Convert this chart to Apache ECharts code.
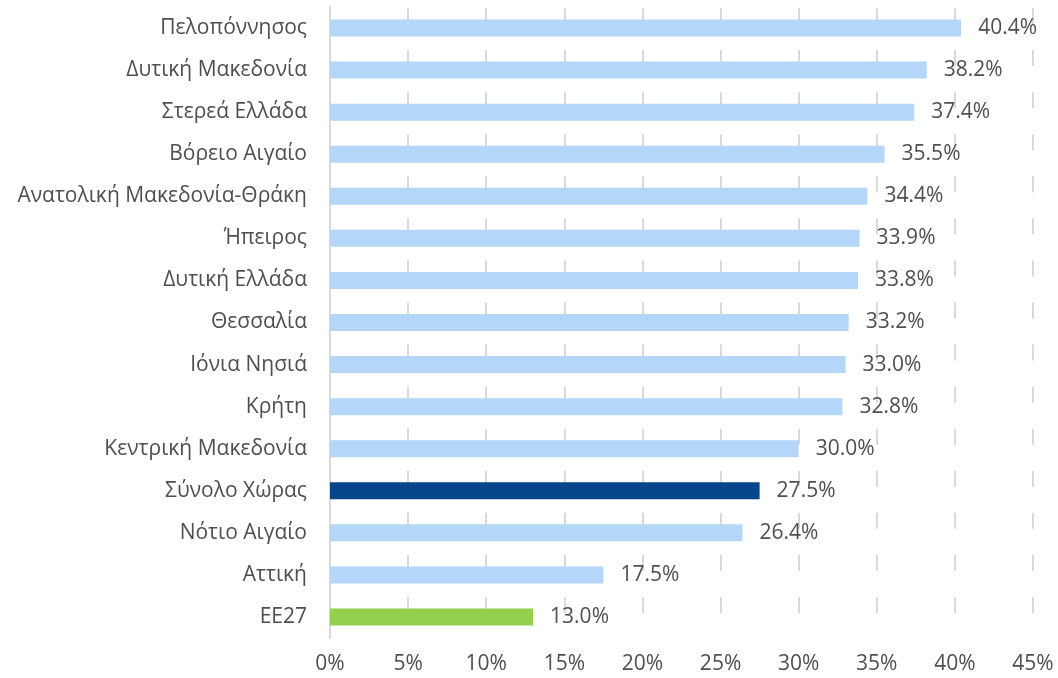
<!DOCTYPE html>
<html>
<head>
<meta charset="utf-8">
<script src="https://cdn.jsdelivr.net/npm/echarts@6/dist/echarts.min.js"></script>
<style>
  html, body { margin: 0; padding: 0; background: #fff; }
  #chart { width: 1058px; height: 678px; }
</style>
</head>
<body>
<div id="chart"></div>
<script>
// regions, top to bottom
var regions = ['Πελοπόννησος', 'Δυτική Μακεδονία', 'Στερεά Ελλάδα', 'Βόρειο Αιγαίο',
  'Ανατολική Μακεδονία-Θράκη', 'Ήπειρος', 'Δυτική Ελλάδα', 'Θεσσαλία', 'Ιόνια Νησιά',
  'Κρήτη', 'Κεντρική Μακεδονία', 'Σύνολο Χώρας', 'Νότιο Αιγαίο', 'Αττική', 'ΕΕ27'];
var values = [40.4, 38.2, 37.4, 35.5, 34.4, 33.9, 33.8, 33.2, 33.0, 32.8, 30.0, 27.5, 26.4, 17.5, 13.0];
var xTicks = [0, 5, 10, 15, 20, 25, 30, 35, 40, 45];

var colorDefault = '#b4d6f8';
var colorCountry = '#03468a';
var colorEU = '#92d050';
var textColor = '#4f4f4f';
var font = 'Open Sans';

var myChart = echarts.init(document.getElementById('chart'));

var option = {
  animation: false,
  grid: { left: 330, right: 25, top: 7, bottom: 40 },
  xAxis: {
    type: 'value',
    min: xTicks[0],
    max: xTicks[xTicks.length - 1],
    interval: 5,
    axisLine: { show: false },
    axisTick: { show: false },
    axisLabel: {
      formatter: '{value}%',
      color: textColor,
      fontSize: 21,
      fontFamily: font,
      margin: 16
    },
    splitLine: {
      lineStyle: { color: '#d9d9d9', width: 2, type: [16, 26.07], dashOffset: -1 }
    }
  },
  yAxis: {
    type: 'category',
    inverse: true,
    data: regions,
    axisLine: { lineStyle: { color: '#d9d9d9', width: 2 } },
    axisTick: { length: 8, lineStyle: { color: '#d9d9d9', width: 2 } },
    axisLabel: {
      color: textColor,
      fontSize: 21,
      fontFamily: font,
      margin: 23
    }
  },
  series: [{
    type: 'bar',
    barWidth: 17,
    data: values.map(function (v, i) {
      var c = colorDefault;
      if (regions[i] === 'Σύνολο Χώρας') c = colorCountry;
      if (regions[i] === 'ΕΕ27') c = colorEU;
      return { value: v, itemStyle: { color: c } };
    }),
    label: {
      show: true,
      position: 'right',
      distance: 17,
      color: textColor,
      fontSize: 21,
      fontFamily: font,
      formatter: function (p) { return p.value.toFixed(1) + '%'; }
    }
  }]
};

myChart.setOption(option);
</script>
</body>
</html>
